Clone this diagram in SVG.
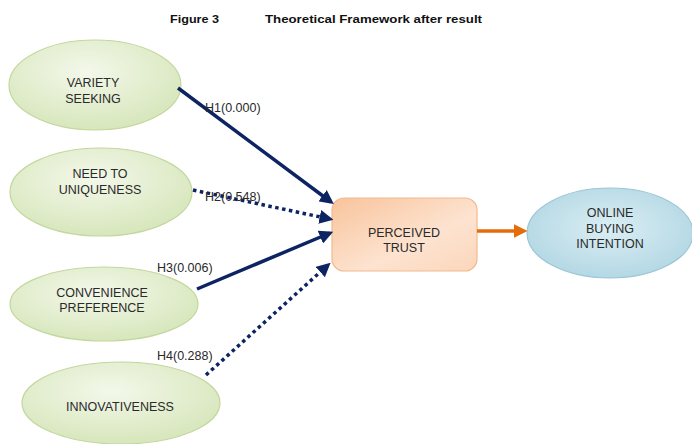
<svg xmlns="http://www.w3.org/2000/svg" width="692" height="444" viewBox="0 0 692 444">
<defs>
<radialGradient id="gGreen" cx="0.45" cy="0.35" r="0.7">
<stop offset="0" stop-color="#f3f8ea"/>
<stop offset="1" stop-color="#d5e5b8"/>
</radialGradient>
<linearGradient id="gOrange" x1="0" y1="0" x2="1" y2="1">
<stop offset="0" stop-color="#f8c49c"/>
<stop offset="0.6" stop-color="#fde3d0"/>
<stop offset="1" stop-color="#fbd6bb"/>
</linearGradient>
<radialGradient id="gBlue" cx="0.5" cy="0.45" r="0.7">
<stop offset="0" stop-color="#dbeef4"/>
<stop offset="1" stop-color="#a9d2e0"/>
</radialGradient>
<marker id="arrN" markerWidth="4" markerHeight="4" refX="3" refY="2" orient="auto" markerUnits="strokeWidth">
<path d="M0,0 L4,2 L0,4 Z" fill="#0c2462"/>
</marker>
<marker id="arrO" markerWidth="4" markerHeight="4" refX="3" refY="2" orient="auto" markerUnits="strokeWidth">
<path d="M0,0 L4,2 L0,4 Z" fill="#e46c0a"/>
</marker>
</defs>
<style>
.lbl{font-family:"Liberation Sans",Arial,sans-serif;font-size:12.5px;fill:#2a2a2a;text-anchor:middle}
.hl{font-family:"Liberation Sans",Arial,sans-serif;font-size:12.5px;fill:#2a2a2a}
.ttl{font-family:"Liberation Sans",Arial,sans-serif;font-size:11.5px;font-weight:bold;fill:#111}
.green{fill:url(#gGreen);stroke:#c3d79e;stroke-width:1.2}
.solid{stroke:#0c2462;stroke-width:3.5;fill:none;marker-end:url(#arrN)}
.dot{stroke:#0c2462;stroke-width:3.5;fill:none;stroke-dasharray:3.5 3.5;marker-end:url(#arrN)}
</style>
<rect width="692" height="444" fill="#ffffff"/>
<g id="title">
<text class="ttl" x="170" y="23" textLength="49" lengthAdjust="spacingAndGlyphs">Figure 3</text>
<text class="ttl" x="265" y="23" textLength="217" lengthAdjust="spacingAndGlyphs">Theoretical Framework after result</text>
</g>
<g id="variety">
<ellipse class="green" cx="95" cy="85" rx="86" ry="45"/>
<text class="lbl" x="93" y="87">VARIETY</text>
<text class="lbl" x="93" y="103">SEEKING</text>
</g>
<g id="uniqueness">
<ellipse class="green" cx="101" cy="192" rx="91" ry="44"/>
<text class="lbl" x="100" y="178">NEED TO</text>
<text class="lbl" x="100" y="194">UNIQUENESS</text>
</g>
<g id="convenience">
<ellipse class="green" cx="104" cy="304" rx="94" ry="37"/>
<text class="lbl" x="102" y="297">CONVENIENCE</text>
<text class="lbl" x="102" y="312">PREFERENCE</text>
</g>
<g id="innovativeness">
<ellipse class="green" cx="121" cy="403" rx="99" ry="41"/>
<text class="lbl" x="120" y="411">INNOVATIVENESS</text>
</g>
<g id="trust">
<rect x="332" y="198" width="145" height="73" rx="12" fill="url(#gOrange)" stroke="#f2b98e" stroke-width="1.2"/>
<text class="lbl" x="404" y="237">PERCEIVED</text>
<text class="lbl" x="404" y="252">TRUST</text>
</g>
<g id="intention">
<ellipse cx="610" cy="233" rx="83" ry="45" fill="url(#gBlue)" stroke="#9cc6d6" stroke-width="1.2"/>
<text class="lbl" x="610" y="217">ONLINE</text>
<text class="lbl" x="610" y="233">BUYING</text>
<text class="lbl" x="610" y="248">INTENTION</text>
</g>
<g id="connectors">
<line class="solid" x1="178" y1="88" x2="331" y2="202"/>
<line class="dot" x1="193" y1="190" x2="330" y2="219"/>
<line class="solid" x1="197" y1="289" x2="330" y2="233"/>
<line class="dot" x1="206" y1="375" x2="328" y2="265"/>
<line x1="477" y1="231" x2="524" y2="231" stroke="#e46c0a" stroke-width="3.5" marker-end="url(#arrO)"/>
<text class="hl" x="205" y="112">H1(0.000)</text>
<text class="hl" x="205" y="201">H2(0.548)</text>
<text class="hl" x="157" y="272">H3(0.006)</text>
<text class="hl" x="157" y="360">H4(0.288)</text>
</g>
</svg>
